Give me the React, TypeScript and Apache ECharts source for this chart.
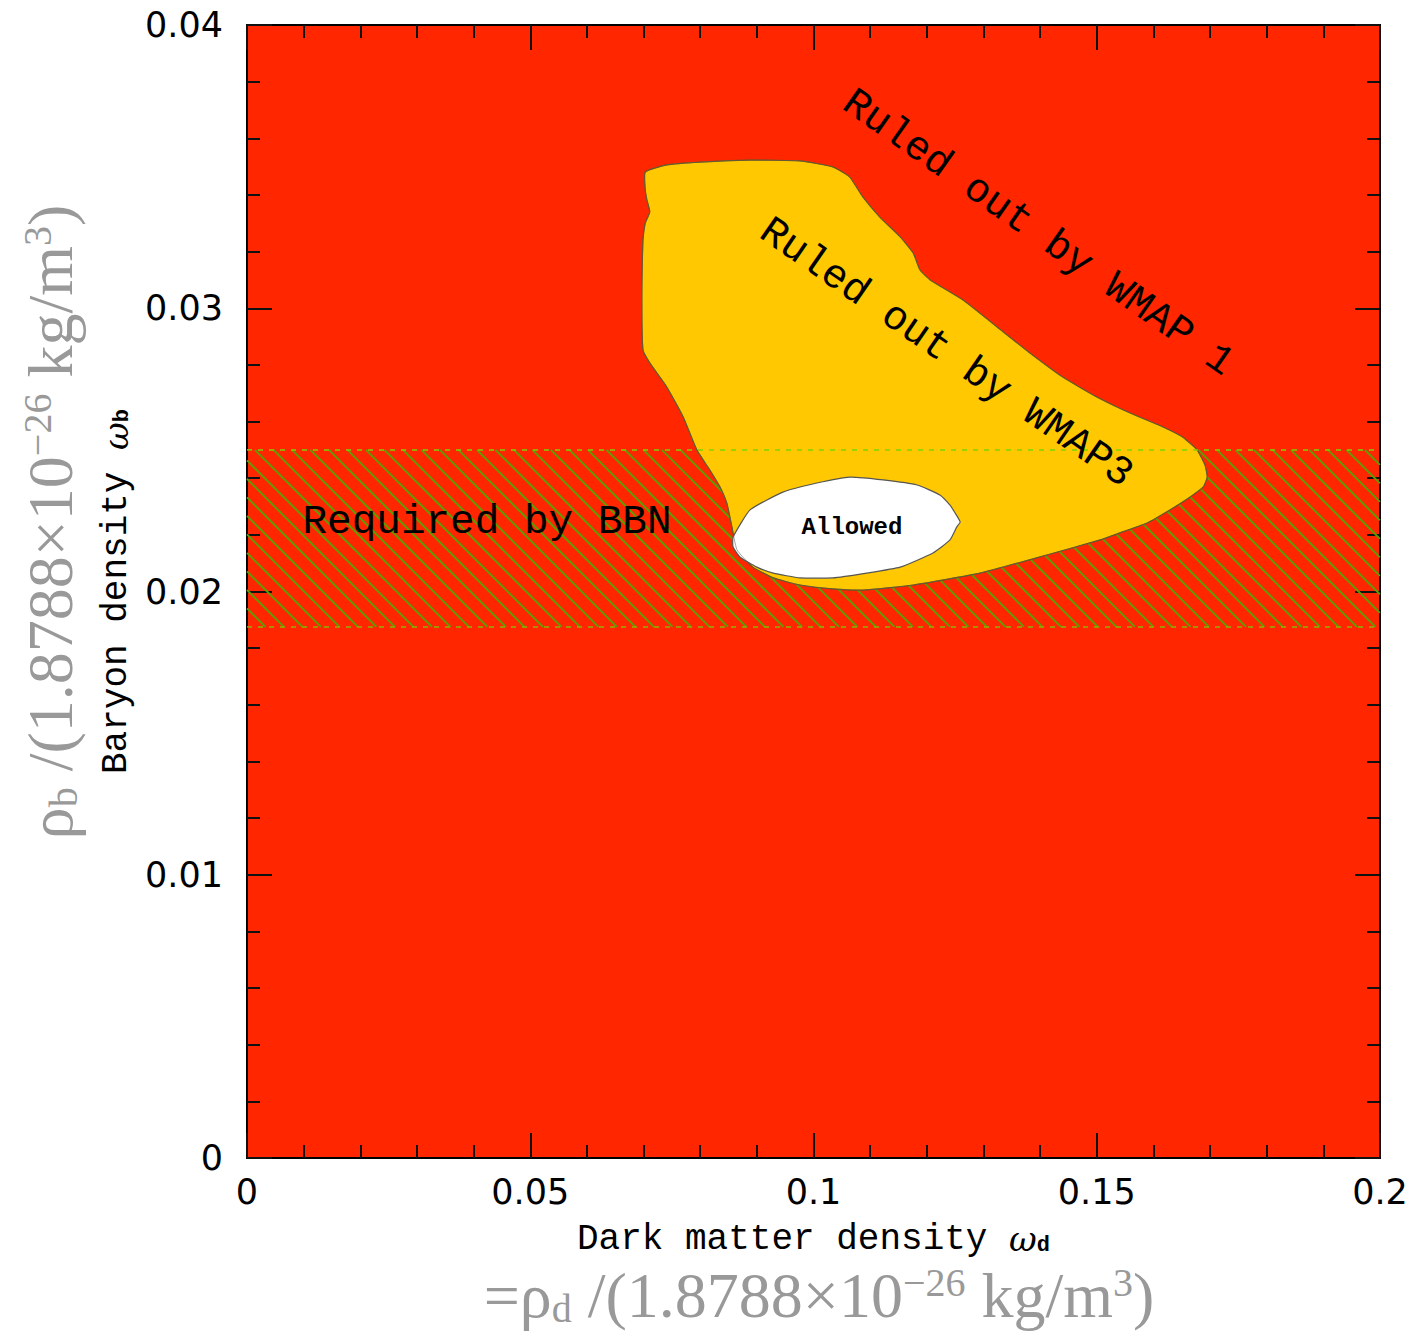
import React, { useEffect, useRef } from "react";
import * as echarts from "echarts";

// Axis ranges / ticks
const xTicks = [0, 0.05, 0.1, 0.15, 0.2];
const yTicks = [0, 0.01, 0.02, 0.03, 0.04];

// BBN required band (baryon density range)
const bbnBand = [0.01875, 0.025];

// Region allowed by WMAP1 but ruled out by WMAP3 (yellow)
const wmap3Region: [number, number][] = [
  [0.0703, 0.03481], [0.0741, 0.03506], [0.08, 0.03516], [0.0888, 0.03523],
  [0.0976, 0.0352], [0.1034, 0.03499], [0.1064, 0.03463], [0.1087, 0.03393],
  [0.1117, 0.03322], [0.1153, 0.03252], [0.1176, 0.03195], [0.1188, 0.03135],
  [0.1206, 0.031], [0.1264, 0.03029], [0.1324, 0.02934], [0.1382, 0.02842],
  [0.144, 0.02757], [0.15, 0.02687], [0.1559, 0.0263], [0.1617, 0.02581],
  [0.1652, 0.02545], [0.1677, 0.025], [0.1691, 0.02447], [0.1695, 0.02404],
  [0.1688, 0.02369], [0.1665, 0.02334], [0.1629, 0.02288], [0.1589, 0.02242],
  [0.1541, 0.02207], [0.1506, 0.02182], [0.1412, 0.02129], [0.1294, 0.02065],
  [0.1176, 0.02023], [0.1087, 0.02005], [0.1034, 0.02009], [0.0976, 0.02023],
  [0.0929, 0.02048], [0.0893, 0.02086], [0.0865, 0.02147], [0.0856, 0.02228],
  [0.0847, 0.02312], [0.0835, 0.02369], [0.0817, 0.02429], [0.0794, 0.025],
  [0.077, 0.02616], [0.0741, 0.02722], [0.0711, 0.02807], [0.0699, 0.02853],
  [0.0697, 0.03029], [0.0699, 0.03241], [0.0703, 0.03301], [0.0711, 0.0334],
  [0.0706, 0.03382], [0.0703, 0.03417],
];

// Allowed region (white)
const allowedRegion: [number, number][] = [
  [0.0858, 0.02192], [0.0888, 0.02288], [0.0946, 0.02351], [0.1006, 0.02383],
  [0.1064, 0.02404], [0.1123, 0.02394], [0.1183, 0.02376], [0.1223, 0.02341],
  [0.1241, 0.02305], [0.125, 0.02277], [0.1259, 0.02245], [0.1253, 0.02228],
  [0.1241, 0.02182], [0.1211, 0.02136], [0.1153, 0.02086], [0.1094, 0.02065],
  [0.1034, 0.02048], [0.0976, 0.02048], [0.0929, 0.02065], [0.09, 0.02086],
  [0.087, 0.02122], [0.0858, 0.02157],
];

const RED = "#ff2600";
const YELLOW = "#ffc800";
const MONO = "Liberation Mono";
const SERIF = "Liberation Serif";
const GRAY = "#999999";

export default function App() {
  const ref = useRef<HTMLDivElement>(null);

  useEffect(() => {
    if (!ref.current) return;
    const chart = echarts.init(ref.current, undefined, { renderer: "svg" });
    const xMin = xTicks[0];
    const xMax = xTicks[xTicks.length - 1];
    const yMin = yTicks[0];
    const yMax = yTicks[yTicks.length - 1];

    const axisCommon = {
      type: "value" as const,
      axisLine: { show: true, onZero: false, lineStyle: { color: "#000", width: 2 } },
      axisTick: { show: true, inside: true, length: 25, lineStyle: { color: "#111", width: 2 } },
      minorTick: { show: true, splitNumber: 5, length: 13, lineStyle: { color: "#111", width: 2 } },
      splitLine: { show: false },
      minorSplitLine: { show: false },
    };

    const nameRich = {
      n: { fontFamily: MONO, fontSize: 36, color: "#000", lineHeight: 34 },
      w: { fontFamily: "DejaVu Serif", fontSize: 34, color: "#000", fontStyle: "italic", lineHeight: 34 },
      s: { fontFamily: MONO, fontSize: 22, color: "#000", fontWeight: "bold", verticalAlign: "bottom", lineHeight: 26 },
    };

    const grayRich = {
      n: { fontFamily: SERIF, fontSize: 64, fill: GRAY, lineHeight: 66 },
      sub: { fontFamily: SERIF, fontSize: 40, fill: GRAY, verticalAlign: "bottom", lineHeight: 36 },
      sup: { fontFamily: SERIF, fontSize: 40, fill: GRAY, verticalAlign: "top", lineHeight: 36 },
    };

    const option: any = {
      animation: false,
      grid: {
        left: 247,
        top: 25,
        width: 1133,
        height: 1133,
        show: true,
        backgroundColor: RED,
        borderColor: "#000",
        borderWidth: 2,
        containLabel: false,
      },
      xAxis: [
        {
          ...axisCommon,
          position: "bottom",
          min: xMin,
          max: xMax,
          interval: 0.05,
          axisLabel: { fontFamily: "DejaVu Sans", fontSize: 35, color: "#000", margin: 16 },
          name: "{n|Dark matter density }{w|ω}{s|d}",
          nameLocation: "middle",
          nameGap: 64,
          nameTextStyle: { rich: nameRich, fontFamily: MONO, fontSize: 36, color: "#000" },
        },
        {
          ...axisCommon,
          position: "top",
          min: xMin,
          max: xMax,
          interval: 0.05,
          axisLabel: { show: false },
        },
      ],
      yAxis: [
        {
          ...axisCommon,
          position: "left",
          min: yMin,
          max: yMax,
          interval: 0.01,
          axisLabel: { fontFamily: "DejaVu Sans", fontSize: 35, color: "#000", margin: 24 },
          name: "{n|Baryon density }{w|ω}{s|b}",
          nameLocation: "middle",
          nameGap: 110,
          nameTextStyle: { rich: nameRich, fontFamily: MONO, fontSize: 36, color: "#000" },
        },
        {
          ...axisCommon,
          position: "right",
          min: yMin,
          max: yMax,
          interval: 0.01,
          axisLabel: { show: false },
        },
      ],
      series: [
        {
          type: "custom",
          name: "BBN hatch",
          xAxisIndex: 0,
          yAxisIndex: 0,
          z: 1,
          silent: true,
          data: [[xMin, bbnBand[0]]],
          renderItem: (_p: any, api: any) => {
            const tl = api.coord([xMin, bbnBand[1]]);
            const br = api.coord([xMax, bbnBand[0]]);
            const x0 = tl[0], y0 = tl[1], x1 = br[0], y1 = br[1];
            const h = y1 - y0;
            const step = 18.5;
            const children: any[] = [];
            for (let c = x0 - h; c < x1; c += step) {
              let sx = c, sy = y0, ex = c + h, ey = y1;
              if (sx < x0) { sy = y0 + (x0 - c); sx = x0; }
              if (ex > x1) { ey = y0 + (x1 - c); ex = x1; }
              children.push({
                type: "line",
                shape: { x1: sx, y1: sy, x2: ex, y2: ey },
                style: { stroke: "#5c9f00", lineWidth: 2 },
              });
            }
            return { type: "group", children };
          },
        },
        {
          type: "custom",
          name: "WMAP3",
          z: 2,
          silent: true,
          data: [[wmap3Region[0][0], wmap3Region[0][1]]],
          renderItem: (_p: any, api: any) => ({
            type: "polygon",
            shape: { points: wmap3Region.map((p) => api.coord(p)), smooth: 0.15 },
            style: { fill: YELLOW, stroke: "#6e5a10", lineWidth: 1.2 },
          }),
        },
        {
          type: "custom",
          name: "Allowed",
          z: 3,
          silent: true,
          data: [[allowedRegion[0][0], allowedRegion[0][1]]],
          renderItem: (_p: any, api: any) => ({
            type: "polygon",
            shape: { points: allowedRegion.map((p) => api.coord(p)), smooth: 0.15 },
            style: { fill: "#ffffff", stroke: "#555555", lineWidth: 1.2 },
          }),
        },
        {
          type: "custom",
          name: "WMAP3 outline",
          z: 4,
          silent: true,
          data: [[wmap3Region[0][0], wmap3Region[0][1]]],
          renderItem: (_p: any, api: any) => ({
            type: "polygon",
            shape: { points: wmap3Region.map((p) => api.coord(p)), smooth: 0.15 },
            style: { fill: "none", stroke: "rgba(90,90,90,0.55)", lineWidth: 1 },
          }),
        },
        {
          type: "line",
          name: "BBN upper",
          z: 5,
          silent: true,
          symbol: "none",
          data: [[xMin, bbnBand[1]], [xMax, bbnBand[1]]],
          lineStyle: { color: "#7fd200", width: 1.5, type: [5, 6] },
        },
        {
          type: "line",
          name: "BBN lower",
          z: 5,
          silent: true,
          symbol: "none",
          data: [[xMin, bbnBand[0]], [xMax, bbnBand[0]]],
          lineStyle: { color: "#8cb400", width: 1.5, type: [5, 6] },
        },
      ],
      graphic: [
        {
          type: "text",
          x: 1038,
          y: 233,
          rotation: (-35.1 * Math.PI) / 180,
          z: 20,
          style: { text: "Ruled out by WMAP 1", fontFamily: MONO, fontSize: 41, fill: "#000", align: "center", verticalAlign: "middle" },
        },
        {
          type: "text",
          x: 946,
          y: 353,
          rotation: (-34.6 * Math.PI) / 180,
          z: 20,
          style: { text: "Ruled out by WMAP3", fontFamily: MONO, fontSize: 41, fill: "#000", align: "center", verticalAlign: "middle" },
        },
        {
          type: "text",
          x: 487,
          y: 522,
          z: 20,
          style: { text: "Required by BBN", fontFamily: MONO, fontSize: 41, fill: "#000", align: "center", verticalAlign: "middle" },
        },
        {
          type: "text",
          x: 852,
          y: 527,
          z: 20,
          style: { text: "Allowed", fontFamily: MONO, fontSize: 24, fontWeight: "bold", fill: "#000", align: "center", verticalAlign: "middle" },
        },
        {
          type: "text",
          x: 50,
          y: 522,
          rotation: Math.PI / 2,
          z: 20,
          style: {
            text: "{n|ρ}{sub|b}{n| /(1.8788×10}{sup|−26}{n| kg/m}{sup|3}{n|)}",
            rich: grayRich,
            fill: GRAY,
            align: "center",
            verticalAlign: "middle",
          },
        },
        {
          type: "text",
          x: 819,
          y: 1295,
          z: 20,
          style: {
            text: "{n|=ρ}{sub|d}{n| /(1.8788×10}{sup|−26}{n| kg/m}{sup|3}{n|)}",
            rich: grayRich,
            fill: GRAY,
            align: "center",
            verticalAlign: "middle",
          },
        },
      ],
    };

    chart.setOption(option);
    return () => chart.dispose();
  }, []);

  return (
    <div
      ref={ref}
      style={{ position: "absolute", left: 0, top: 0, width: 1418, height: 1334 }}
    />
  );
}
